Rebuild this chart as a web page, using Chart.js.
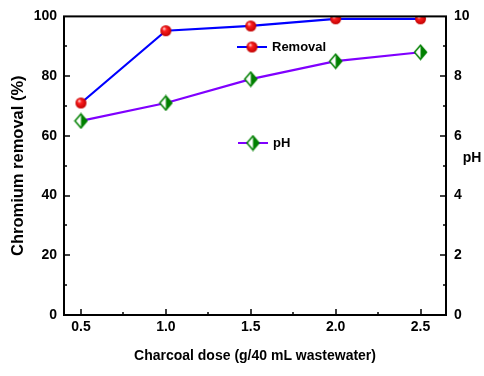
<!DOCTYPE html>
<html>
<head>
<meta charset="utf-8">
<script src="https://cdn.jsdelivr.net/npm/chart.js@4"></script>
<style>
  html, body { margin: 0; padding: 0; background: #fff; }
  #wrap { width: 484px; height: 376px; }
</style>
</head>
<body>
<div id="wrap"><canvas id="myChart" width="484" height="376"></canvas></div>
<script>
const doses = [0.5, 1.0, 1.5, 2.0, 2.5];
const removal = [71, 95.2, 96.8, 99.2, 99.2];
const phValues = [6.5, 7.1, 7.9, 8.5, 8.8];
const xTicks = [0.5, 1.0, 1.5, 2.0, 2.5];

const FONT = "'Liberation Sans', Arial, sans-serif";

// red ball marker
function makeBall(r) {
  const c = document.createElement("canvas");
  c.width = c.height = r * 2 + 2;
  const g = c.getContext("2d");
  const cx = r + 1;
  const grad = g.createRadialGradient(cx - r * 0.35, cx - r * 0.4, 0.5, cx, cx, r);
  grad.addColorStop(0, "#ffd0d0");
  grad.addColorStop(0.3, "#ff2020");
  grad.addColorStop(1, "#c00000");
  g.fillStyle = grad;
  g.beginPath();
  g.arc(cx, cx, r, 0, Math.PI * 2);
  g.fill();
  return c;
}

// half filled green diamond
function makeDiamond(w, h) {
  const c = document.createElement("canvas");
  c.width = w * 2 + 3;
  c.height = h * 2 + 3;
  const g = c.getContext("2d");
  const cx = w + 1.5, cy = h + 1.5;
  g.fillStyle = "#fff";
  g.beginPath();
  g.moveTo(cx, cy - h); g.lineTo(cx + w, cy); g.lineTo(cx, cy + h); g.lineTo(cx - w, cy);
  g.closePath();
  g.fill();
  g.fillStyle = "#008000";
  g.beginPath();
  g.moveTo(cx, cy - h); g.lineTo(cx + w, cy); g.lineTo(cx, cy + h);
  g.closePath();
  g.fill();
  g.strokeStyle = "#008000";
  g.lineWidth = 1.5;
  g.beginPath();
  g.moveTo(cx, cy - h); g.lineTo(cx + w, cy); g.lineTo(cx, cy + h); g.lineTo(cx - w, cy);
  g.closePath();
  g.stroke();
  return c;
}

const ball = makeBall(5.5);
const diamond = makeDiamond(6, 7);

const framePlugin = {
  id: "frame",
  afterDraw(chart) {
    const ctx = chart.ctx;
    const a = chart.chartArea;
    const sx = chart.scales.x, yl = chart.scales.y, yr = chart.scales.y2;
    ctx.save();
    ctx.strokeStyle = "#000";
    ctx.lineWidth = 2;
    ctx.strokeRect(a.left, a.top, a.right - a.left, a.bottom - a.top);
    ctx.lineWidth = 1.5;
    ctx.beginPath();
    for (let v = 0.5; v <= 2.5; v += 0.25) {
      const x = Math.round(sx.getPixelForValue(v));
      const len = (Math.abs(v * 2 - Math.round(v * 2)) < 1e-6) ? 6 : 3;
      ctx.moveTo(x, a.bottom); ctx.lineTo(x, a.bottom - len);
    }
    for (let v = 10; v < 100; v += 10) {
      const y = Math.round(yl.getPixelForValue(v));
      const len = v % 20 === 0 ? 6 : 3;
      ctx.moveTo(a.left, y); ctx.lineTo(a.left + len, y);
    }
    for (let v = 1; v < 10; v += 1) {
      const y = Math.round(yr.getPixelForValue(v));
      const len = v % 2 === 0 ? 6 : 3;
      ctx.moveTo(a.right, y); ctx.lineTo(a.right - len, y);
    }
    ctx.stroke();

    // legend entries
    ctx.font = "bold 13px " + FONT;
    ctx.textBaseline = "middle";
    ctx.fillStyle = "#000";
    const items = [
      { y: 47, x0: 237, x1: 267, color: "#0000ff", img: ball, label: "Removal" },
      { y: 143, x0: 238, x1: 268, color: "#8000ff", img: diamond, label: "pH" }
    ];
    items.forEach(it => {
      ctx.strokeStyle = it.color;
      ctx.lineWidth = 2;
      ctx.beginPath();
      ctx.moveTo(it.x0, it.y); ctx.lineTo(it.x1, it.y);
      ctx.stroke();
      const mx = (it.x0 + it.x1) / 2;
      ctx.drawImage(it.img, mx - it.img.width / 2, it.y - it.img.height / 2);
      ctx.fillText(it.label, it.x1 + 5, it.y);
    });

    // right axis title
    ctx.font = "bold 14px " + FONT;
    ctx.textAlign = "center";
    ctx.fillText("pH", 472, 158);
    ctx.restore();
  }
};

const ctx = document.getElementById("myChart").getContext("2d");

new Chart(ctx, {
  type: "line",
  data: {
    datasets: [
      {
        label: "Removal",
        data: doses.map((d, i) => ({ x: d, y: removal[i] })),
        borderColor: "#0000ff",
        borderWidth: 2.2,
        pointStyle: ball,
        yAxisID: "y",
        fill: false,
      },
      {
        label: "pH",
        data: doses.map((d, i) => ({ x: d, y: phValues[i] })),
        borderColor: "#8000ff",
        borderWidth: 2.2,
        pointStyle: diamond,
        yAxisID: "y2",
        fill: false,
      },
    ],
  },
  options: {
    responsive: false,
    animation: false,
    layout: { padding: { top: 14, left: 0, right: 0, bottom: 0 } },
    plugins: { legend: { display: false }, tooltip: { enabled: false } },
    scales: {
      x: {
        type: "linear",
        min: 0.4,
        max: 2.65,
        afterBuildTicks: s => { s.ticks = xTicks.map(v => ({ value: v })); },
        afterFit: s => { s.height = 61; },
        grid: { display: false, drawTicks: false },
        border: { display: false },
        ticks: {
          padding: 4,
          color: "#000",
          font: { family: FONT, size: 14, weight: "bold" },
          callback: v => v.toFixed(1),
        },
        title: {
          display: true,
          text: "Charcoal dose (g/40 mL wastewater)",
          color: "#000",
          font: { family: FONT, size: 14, weight: "bold" },
          padding: { top: 6, bottom: 11 },
        },
      },
      y: {
        position: "left",
        min: 0,
        max: 100,
        afterFit: s => { s.width = 64; },
        grid: { display: false, drawTicks: false },
        border: { display: false },
        ticks: {
          stepSize: 20,
          padding: 7,
          color: "#000",
          font: { family: FONT, size: 14, weight: "bold" },
        },
        title: {
          display: true,
          text: "Chromium removal (%)",
          color: "#000",
          font: { family: FONT, size: 16.5, weight: "bold" },
          padding: { top: 9, bottom: 0 },
        },
      },
      y2: {
        position: "right",
        min: 0,
        max: 10,
        afterFit: s => { s.width = 38; },
        grid: { display: false, drawTicks: false },
        border: { display: false },
        ticks: {
          stepSize: 2,
          padding: 8,
          color: "#000",
          font: { family: FONT, size: 14, weight: "bold" },
        },
      },
    },
  },
  plugins: [framePlugin],
});
</script>
</body>
</html>
